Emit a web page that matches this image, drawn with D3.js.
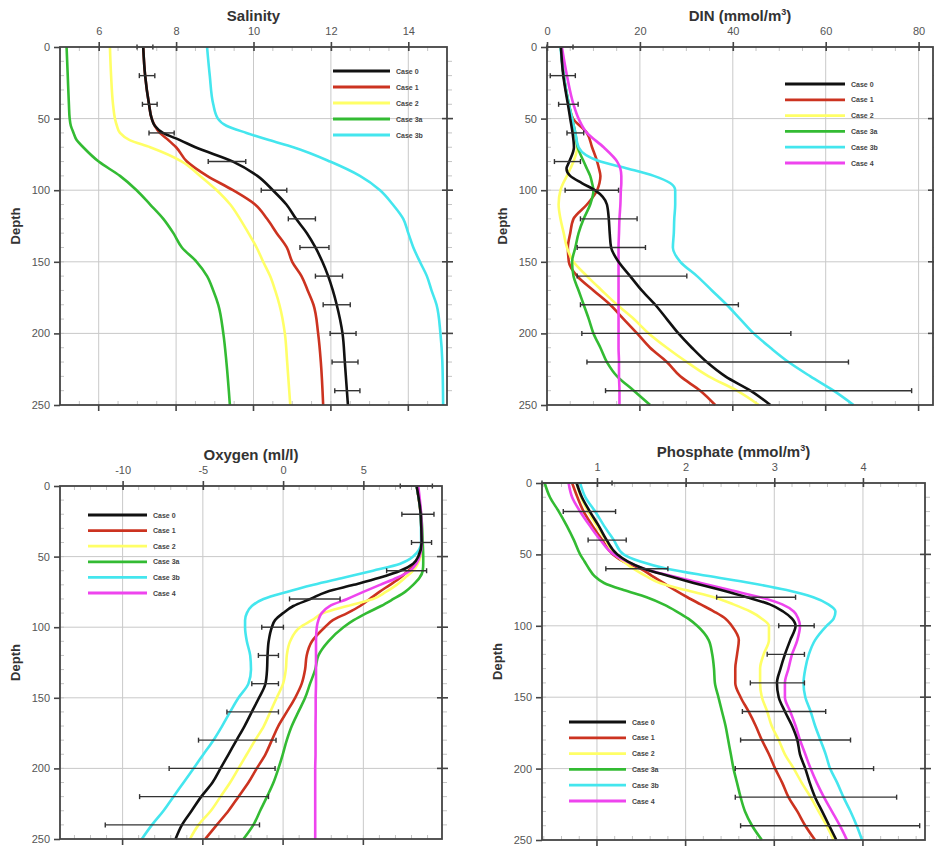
<!DOCTYPE html>
<html>
<head>
<meta charset="utf-8">
<script src="https://cdn.jsdelivr.net/npm/d3@7"></script>
<style>
  html, body { margin: 0; padding: 0; background: #fff; }
  svg { display: block; font-family: "Liberation Sans", Arial, sans-serif; }
  .tick text { fill: #555; font-size: 11px; }
  .title { font-weight: bold; font-size: 15px; fill: #333; }
  .ylab { font-weight: bold; font-size: 13px; fill: #333; }
  .leg { font-weight: bold; font-size: 7px; fill: #444; }
</style>
</head>
<body>
<svg id="chart" width="934" height="849"></svg>
<script>
// ---- data -----------------------------------------------------------------
var CASES = ['Case 0', 'Case 1', 'Case 2', 'Case 3a', 'Case 3b', 'Case 4'];
var COLORS = ['#111111', '#cc3320', '#ffff66', '#33bb33', '#44e6ee', '#ee44ee'];

// Salinity
var salDepth = [0, 20, 40, 50, 55, 60, 65, 70, 80, 90, 100, 110, 120, 130, 140, 150, 160, 170, 180, 200, 220, 250];
var salCase0 = [7.15, 7.2, 7.3, 7.37, 7.45, 7.66, 8.1, 8.5, 9.47, 10.1, 10.5, 10.85, 11.1, 11.38, 11.6, 11.78, 11.93, 12.05, 12.15, 12.3, 12.36, 12.44];
var salCase1 = [7.15, 7.2, 7.3, 7.37, 7.45, 7.58, 7.8, 8.0, 8.28, 8.8, 9.47, 10.04, 10.35, 10.6, 10.86, 11.0, 11.24, 11.4, 11.55, 11.67, 11.74, 11.8];
var salCase2 = [6.29, 6.32, 6.37, 6.42, 6.47, 6.55, 6.8, 7.33, 8.15, 8.62, 9.05, 9.4, 9.65, 9.87, 10.08, 10.25, 10.43, 10.56, 10.67, 10.81, 10.87, 10.95];
var salCase3a = [5.17, 5.2, 5.23, 5.25, 5.28, 5.35, 5.43, 5.6, 6.0, 6.55, 6.98, 7.33, 7.67, 7.93, 8.15, 8.53, 8.8, 8.96, 9.09, 9.22, 9.3, 9.39];
var salCase3b = [8.8, 8.87, 8.96, 9.08, 9.3, 9.82, 10.4, 11.03, 11.98, 12.75, 13.27, 13.6, 13.87, 14.0, 14.13, 14.3, 14.48, 14.6, 14.73, 14.83, 14.88, 14.9];
var salObsDepth = [0, 20, 40, 60, 80, 100, 120, 140, 160, 180, 200, 220, 240];
var salObsLo = [6.99, 7.05, 7.13, 7.3, 8.83, 10.2, 10.9, 11.2, 11.6, 11.8, 11.98, 12.03, 12.1];
var salObsHi = [7.4, 7.45, 7.51, 7.95, 9.8, 10.86, 11.6, 11.95, 12.3, 12.5, 12.65, 12.7, 12.75];

// DIN
var dinDepth = [0, 20, 40, 50, 60, 70, 80, 85, 90, 95, 100, 110, 120, 130, 140, 150, 160, 170, 180, 190, 200, 210, 220, 230, 240, 250];
var dinCase0 = [3.0, 3.5, 4.5, 5.0, 5.5, 5.8, 4.8, 4.2, 5.0, 7.5, 10.3, 12.9, 13.3, 13.5, 13.8, 15.4, 17.9, 20.4, 23.3, 25.8, 28.3, 31.2, 34.4, 38.4, 43.8, 48.1];
var dinCase1 = [3.0, 3.6, 4.7, 5.6, 8.6, 9.7, 10.8, 11.2, 11.5, 11.3, 10.8, 8.6, 5.7, 5.0, 4.5, 4.7, 6.5, 10.0, 13.6, 16.5, 19.4, 22.2, 25.8, 28.7, 33.0, 36.2];
var dinCase2 = [3.0, 3.6, 4.7, 5.4, 6.0, 6.5, 5.7, 5.0, 4.3, 3.5, 2.9, 2.5, 2.9, 3.6, 4.3, 5.7, 8.6, 11.8, 15.1, 18.7, 21.9, 25.8, 30.1, 34.8, 40.9, 45.6];
var dinCase3a = [3.0, 3.6, 4.7, 5.4, 6.1, 6.6, 7.9, 8.6, 9.3, 9.7, 10.0, 9.3, 7.9, 6.8, 6.1, 5.4, 5.7, 6.8, 7.9, 9.0, 10.0, 11.5, 12.9, 15.1, 18.7, 22.2];
var dinCase3b = [2.9, 3.6, 4.7, 5.4, 6.1, 6.8, 11.5, 17.5, 23.0, 26.5, 27.6, 27.6, 27.4, 27.3, 27.1, 28.7, 32.3, 35.5, 38.7, 41.6, 44.5, 48.1, 52.0, 56.7, 61.7, 66.0];
var dinCase4 = [3.2, 4.3, 5.7, 6.8, 8.6, 12.2, 15.1, 15.8, 16.0, 16.0, 15.9, 15.8, 15.6, 15.5, 15.4, 15.4, 15.4, 15.4, 15.4, 15.4, 15.4, 15.4, 15.5, 15.5, 15.6, 15.6];
var dinObsDepth = [0, 20, 40, 60, 80, 100, 120, 140, 160, 180, 200, 220, 240];
var dinObsLo = [0, 0.7, 2.5, 4.3, 1.6, 3.9, 7.2, 6.5, 6.5, 7.2, 7.5, 8.6, 12.6];
var dinObsHi = [5.6, 6.1, 6.7, 7.9, 7.2, 15.4, 19.4, 21.2, 30.1, 41.2, 52.5, 64.9, 78.5];

// Oxygen
var oxDepth = [0, 20, 40, 50, 55, 60, 65, 70, 75, 80, 85, 90, 95, 100, 110, 120, 130, 140, 150, 160, 170, 180, 190, 200, 210, 220, 230, 240, 250];
var oxCase0 = [8.32, 8.57, 8.63, 8.42, 8.1, 7.3, 6.0, 4.4, 2.7, 1.7, 0.64, 0.0, -0.5, -0.7, -0.9, -0.97, -1.0, -1.1, -1.5, -1.95, -2.4, -2.9, -3.4, -3.9, -4.4, -5.1, -5.7, -6.3, -6.7];
var oxCase1 = [8.32, 8.57, 8.63, 8.5, 8.3, 7.8, 7.3, 6.66, 6.0, 5.4, 4.8, 4.0, 3.1, 2.6, 1.8, 1.47, 1.37, 1.16, 0.75, 0.23, -0.3, -0.7, -1.1, -1.64, -2.16, -2.78, -3.4, -4.13, -4.85];
var oxCase2 = [8.32, 8.57, 8.63, 8.55, 8.4, 8.1, 7.6, 7.07, 6.4, 5.6, 4.0, 2.5, 1.8, 1.06, 0.44, 0.23, 0.17, 0.0, -0.4, -0.8, -1.2, -1.74, -2.26, -2.78, -3.3, -3.9, -4.5, -5.27, -5.8];
var oxCase3a = [8.32, 8.6, 8.7, 8.73, 8.73, 8.7, 8.5, 8.1, 7.6, 6.87, 6.1, 5.2, 4.4, 3.76, 2.82, 2.2, 2.0, 1.68, 1.37, 0.95, 0.54, 0.23, -0.02, -0.29, -0.6, -1.0, -1.43, -1.85, -2.47];
var oxCase3b = [8.32, 8.57, 8.6, 8.1, 7.3, 5.6, 3.76, 1.9, 0.23, -1.22, -1.95, -2.26, -2.37, -2.37, -2.26, -2.05, -2.0, -2.16, -2.78, -3.3, -3.8, -4.34, -4.96, -5.58, -6.2, -6.83, -7.45, -8.17, -8.8];
var oxCase4 = [8.42, 8.6, 8.65, 8.5, 8.3, 7.9, 7.1, 6.04, 5.0, 4.0, 2.9, 2.4, 2.2, 2.1, 2.05, 2.05, 2.05, 2.05, 2.03, 2.03, 2.02, 2.02, 2.02, 2.0, 2.0, 2.0, 2.0, 2.0, 2.0];
var oxObsDepth = [0, 20, 40, 60, 80, 100, 120, 140, 160, 180, 200, 220, 240];
var oxObsLo = [7.3, 7.4, 8.0, 6.45, 0.4, -1.33, -1.54, -1.95, -3.5, -5.27, -7.1, -8.94, -11.08];
var oxObsHi = [9.3, 9.4, 9.25, 8.94, 3.55, 0.02, -0.29, -0.29, -0.29, -0.44, -0.5, -0.91, -1.47];

// Phosphate
var phDepth = [0, 10, 20, 30, 40, 50, 55, 60, 65, 70, 75, 80, 85, 90, 95, 100, 110, 120, 130, 140, 150, 160, 170, 180, 190, 200, 210, 220, 230, 240, 250];
var phCase0 = [0.77, 0.83, 0.92, 1.02, 1.11, 1.23, 1.35, 1.53, 1.8, 2.09, 2.4, 2.69, 2.95, 3.1, 3.2, 3.24, 3.18, 3.12, 3.07, 3.03, 3.05, 3.12, 3.2, 3.26, 3.29, 3.35, 3.4, 3.46, 3.54, 3.62, 3.7];
var phCase1 = [0.72, 0.78, 0.85, 0.95, 1.06, 1.18, 1.3, 1.49, 1.62, 1.75, 1.88, 2.02, 2.17, 2.32, 2.45, 2.52, 2.6, 2.58, 2.56, 2.56, 2.62, 2.71, 2.79, 2.86, 2.94, 3.01, 3.09, 3.16, 3.26, 3.35, 3.46];
var phCase2 = [0.77, 0.82, 0.9, 1.0, 1.1, 1.2, 1.3, 1.41, 1.55, 1.71, 2.0, 2.32, 2.54, 2.73, 2.86, 2.94, 2.94, 2.88, 2.84, 2.84, 2.86, 2.92, 2.97, 3.05, 3.12, 3.22, 3.31, 3.41, 3.5, 3.59, 3.67];
var phCase3a = [0.41, 0.47, 0.57, 0.66, 0.74, 0.81, 0.86, 0.91, 0.97, 1.08, 1.3, 1.56, 1.75, 1.9, 2.03, 2.13, 2.26, 2.3, 2.32, 2.33, 2.37, 2.41, 2.45, 2.48, 2.51, 2.54, 2.58, 2.62, 2.67, 2.75, 2.86];
var phCase3b = [0.81, 0.87, 0.98, 1.08, 1.19, 1.3, 1.49, 1.79, 2.24, 2.73, 3.14, 3.44, 3.61, 3.69, 3.67, 3.59, 3.46, 3.39, 3.35, 3.33, 3.35, 3.41, 3.46, 3.52, 3.58, 3.63, 3.71, 3.78, 3.86, 3.93, 3.99];
var phCase4 = [0.68, 0.72, 0.81, 0.92, 1.04, 1.19, 1.34, 1.53, 1.83, 2.17, 2.5, 2.84, 3.09, 3.22, 3.27, 3.29, 3.26, 3.2, 3.16, 3.12, 3.12, 3.18, 3.24, 3.29, 3.35, 3.41, 3.48, 3.56, 3.65, 3.74, 3.82];
var phObsDepth = [0, 20, 40, 60, 80, 100, 120, 140, 160, 180, 200, 220, 240];
var phObsLo = [0.38, 0.62, 0.9, 1.1, 2.35, 3.05, 2.92, 2.73, 2.64, 2.62, 2.56, 2.56, 2.62];
var phObsHi = [1.17, 1.21, 1.33, 1.8, 3.24, 3.45, 3.34, 3.34, 3.58, 3.86, 4.12, 4.38, 4.64];

var DEPTH_TICKS = [0, 50, 100, 150, 200, 250];

// ---- panels -----------------------------------------------------------------
var panels = [
    {
        title: ['Salinity'], box: { l: 60, r: 447, t: 47, b: 405 },
        domain: [5, 15], ticks: [6, 8, 10, 12, 14], minor: 0.5,
        depth: salDepth, series: [salCase0, salCase1, salCase2, salCase3a, salCase3b],
        obs: [salObsDepth, salObsLo, salObsHi],
        legend: { x1: 333, x2: 390, y: 71, dy: 16 }
    },
    {
        title: ['DIN (mmol/m', '3', ')'], box: { l: 547, r: 933, t: 47, b: 405 },
        domain: [0, 83.1], ticks: [0, 20, 40, 60, 80], minor: 5,
        depth: dinDepth, series: [dinCase0, dinCase1, dinCase2, dinCase3a, dinCase3b, dinCase4],
        obs: [dinObsDepth, dinObsLo, dinObsHi],
        legend: { x1: 785, x2: 845, y: 84, dy: 15.8 }
    },
    {
        title: ['Oxygen (ml/l)'], box: { l: 60, r: 442, t: 486, b: 839 },
        domain: [-13.9, 9.9], ticks: [-10, -5, 0, 5], minor: 1,
        depth: oxDepth, series: [oxCase0, oxCase1, oxCase2, oxCase3a, oxCase3b, oxCase4],
        obs: [oxObsDepth, oxObsLo, oxObsHi],
        legend: { x1: 88, x2: 147, y: 515, dy: 15.6 }
    },
    {
        title: ['Phosphate (mmol/m', '3', ')'], box: { l: 542, r: 925, t: 483, b: 840 },
        domain: [0.38, 4.7], ticks: [1, 2, 3, 4], minor: 0.2,
        depth: phDepth, series: [phCase0, phCase1, phCase2, phCase3a, phCase3b, phCase4],
        obs: [phObsDepth, phObsLo, phObsHi],
        legend: { x1: 569, x2: 626, y: 722, dy: 15.8 }
    }
];

var svg = d3.select('#chart');
var AXIS = '#444';
var GRID = '#c9c9c9';
var MINOR = '#c4c4c4';

// plain hyphen minus, as in the original
function fmt(d) { return String(d); }

panels.forEach(drawPanel);

function drawPanel(p) {
    var b = p.box;
    var x = d3.scaleLinear().domain(p.domain).range([b.l, b.r]);
    var y = d3.scaleLinear().domain([0, 250]).range([b.t, b.b]);
    var g = svg.append('g');

    // grid
    g.selectAll('line.gx').data(p.ticks).join('line')
        .attr('x1', function (d) { return x(d); }).attr('x2', function (d) { return x(d); })
        .attr('y1', b.t).attr('y2', b.b)
        .attr('stroke', GRID).attr('stroke-width', 1);
    g.selectAll('line.gy').data(DEPTH_TICKS.slice(1, -1)).join('line')
        .attr('x1', b.l).attr('x2', b.r)
        .attr('y1', function (d) { return y(d); }).attr('y2', function (d) { return y(d); })
        .attr('stroke', GRID).attr('stroke-width', 1);

    // minor ticks
    var minorX = d3.range(Math.ceil(p.domain[0] / p.minor) * p.minor, p.domain[1], p.minor);
    var minorY = d3.range(10, 250, 10);
    [b.t, b.b].forEach(function (yy, i) {
        g.append('g').selectAll('line').data(minorX).join('line')
            .attr('x1', function (d) { return x(d); }).attr('x2', function (d) { return x(d); })
            .attr('y1', yy).attr('y2', i === 0 ? yy + 4 : yy - 4)
            .attr('stroke', MINOR).attr('stroke-width', 1);
    });
    [b.l, b.r].forEach(function (xx, i) {
        g.append('g').selectAll('line').data(minorY).join('line')
            .attr('y1', function (d) { return y(d); }).attr('y2', function (d) { return y(d); })
            .attr('x1', xx).attr('x2', i === 0 ? xx + 4 : xx + 5)
            .attr('stroke', MINOR).attr('stroke-width', 1);
    });

    // model curves
    var order = [1, 2, 3, 4, 5, 0];
    order.forEach(function (k) {
        var vals = p.series[k];
        if (!vals) { return; }
        var line = d3.line()
            .x(function (d) { return x(d); })
            .y(function (d, i) { return y(p.depth[i]); })
            .curve(d3.curveMonotoneY);
        g.append('path')
            .attr('d', line(vals))
            .attr('fill', 'none')
            .attr('stroke', COLORS[k])
            .attr('stroke-width', 2.6)
            .attr('stroke-linejoin', 'round');
    });

    // observations: horizontal error bars
    var od = p.obs[0], lo = p.obs[1], hi = p.obs[2];
    var eb = g.append('g').attr('stroke', '#333').attr('stroke-width', 1.4);
    eb.selectAll('line.bar').data(od).join('line')
        .attr('x1', function (d, i) { return x(lo[i]); })
        .attr('x2', function (d, i) { return x(hi[i]); })
        .attr('y1', function (d) { return y(d); })
        .attr('y2', function (d) { return y(d); });
    [lo, hi].forEach(function (arr) {
        eb.append('g').selectAll('line').data(od).join('line')
            .attr('x1', function (d, i) { return x(arr[i]); })
            .attr('x2', function (d, i) { return x(arr[i]); })
            .attr('y1', function (d) { return y(d) - 2.5; })
            .attr('y2', function (d) { return y(d) + 2.5; });
    });

    // frame
    g.append('rect')
        .attr('x', b.l).attr('y', b.t).attr('width', b.r - b.l).attr('height', b.b - b.t)
        .attr('fill', 'none').attr('stroke', AXIS).attr('stroke-width', 1.8);

    // top axis with labels
    var top = g.append('g').attr('transform', 'translate(0,' + b.t + ')')
        .call(d3.axisTop(x).tickValues(p.ticks).tickFormat(fmt).tickSize(4).tickPadding(8));
    top.select('.domain').remove();
    top.selectAll('.tick line').attr('stroke', AXIS).attr('stroke-width', 1.6).attr('y2', -5).attr('y1', 4);

    // bottom major ticks (outward, no labels)
    g.append('g').selectAll('line').data(p.ticks).join('line')
        .attr('x1', function (d) { return x(d); }).attr('x2', function (d) { return x(d); })
        .attr('y1', b.b).attr('y2', b.b + 6)
        .attr('stroke', AXIS).attr('stroke-width', 1.6);

    // left depth axis
    var left = g.append('g').attr('transform', 'translate(' + b.l + ',0)')
        .call(d3.axisLeft(y).tickValues(DEPTH_TICKS).tickFormat(fmt).tickSize(6).tickPadding(4));
    left.select('.domain').remove();
    left.selectAll('.tick line').attr('stroke', AXIS).attr('stroke-width', 1.6);

    // right major ticks
    g.append('g').selectAll('line').data(DEPTH_TICKS.slice(1, -1)).join('line')
        .attr('y1', function (d) { return y(d); }).attr('y2', function (d) { return y(d); })
        .attr('x1', b.r - 5).attr('x2', b.r + 6)
        .attr('stroke', AXIS).attr('stroke-width', 1.6);

    // title
    var t = g.append('text').attr('class', 'title')
        .attr('x', (b.l + b.r) / 2).attr('y', b.t - 26).attr('text-anchor', 'middle');
    t.append('tspan').text(p.title[0]);
    if (p.title.length > 1) {
        t.append('tspan').attr('font-size', '9px').attr('dy', -6).text(p.title[1]);
        t.append('tspan').attr('dy', 6).text(p.title[2]);
    }

    // depth label
    g.append('text').attr('class', 'ylab')
        .attr('transform', 'translate(' + (b.l - 40) + ',' + ((b.t + b.b) / 2) + ') rotate(-90)')
        .attr('text-anchor', 'middle')
        .text('Depth');

    // legend
    var L = p.legend;
    var leg = g.append('g');
    p.series.forEach(function (s, k) {
        var yy = L.y + k * L.dy;
        leg.append('line')
            .attr('x1', L.x1).attr('x2', L.x2).attr('y1', yy).attr('y2', yy)
            .attr('stroke', COLORS[k]).attr('stroke-width', 2.8);
        leg.append('text').attr('class', 'leg')
            .attr('x', L.x2 + 6).attr('y', yy + 2.5)
            .text(CASES[k]);
    });
}
</script>
</body>
</html>
